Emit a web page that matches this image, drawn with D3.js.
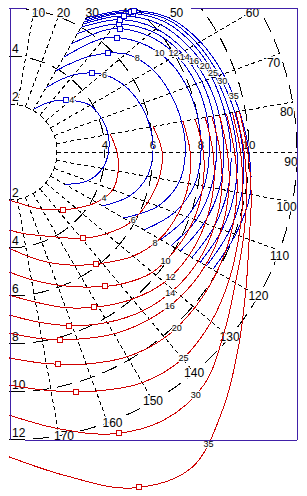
<!DOCTYPE html>
<html>
<head>
<meta charset="utf-8">
<script src="https://cdn.jsdelivr.net/npm/d3@7"></script>
<style>
  body { margin: 0; background: #fff; }
  text { font-family: "Liberation Sans", Arial, sans-serif; }
</style>
</head>
<body>
<svg id="chart" width="307" height="496"></svg>
<script>
// grid
const gridAngles = [10, 20, 30, 40, 50, 60, 70, 80, 90, 100, 110, 120, 130, 140, 150, 160, 170];
const ringRadii = [2, 4, 6, 8, 10, 12];
const leftTopLabels = [2, 4];
const leftBottomLabels = [2, 4, 6, 8, 10, 12];
const midLabels = [4, 6, 8, 10];
const topEdgeSegments = [[0, 0.75], [7.6, 12]];

// blue contours, range at each angle
const blueLevels = [4, 6, 8, 10, 12, 14, 16, 20, 25, 30, 35];
const blueAngles = [30, 40, 50, 60, 70, 80, 90, 100, 110, 120];
const blueRanges = [
  [2.05, 2.75, 3.35, 3.9, 4.1, 4.2, 4.15, 3.95, 3.5, 2.7],
  [3.1, 4.2, 5.05, 5.55, 5.82, 5.97, 6.0, 5.85, 5.35, 4.5],
  [3.9, 5.2, 6.35, 6.9, 7.15, 7.3, 7.35, 7.2, 6.6, 5.5],
  [4.55, 6.2, 7.1, 7.65, 7.9, 8.0, 8.0, 7.85, 7.35, 6.5],
  [5.2, 6.7, 7.55, 8.05, 8.3, 8.38, 8.35, 8.25, 7.9, 7.3],
  [5.7, 6.95, 7.8, 8.28, 8.55, 8.65, 8.65, 8.55, 8.3, 7.8],
  [6.0, 7.2, 8.0, 8.45, 8.75, 8.9, 8.95, 8.9, 8.65, 8.25],
  [6.15, 7.4, 8.25, 8.7, 9.0, 9.15, 9.25, 9.25, 9.1, 8.8],
  [6.25, 7.55, 8.45, 8.9, 9.15, 9.35, 9.5, 9.55, 9.45, 9.2],
  [6.35, 7.62, 8.6, 9.05, 9.32, 9.55, 9.75, 9.85, 9.75, 9.5],
  [6.45, 7.7, 8.7, 9.2, 9.5, 9.75, 10.0, 10.2, 10.05, 9.8]
];
const blueMarkAngles = [47.6, 46.4, 45, 43.4, 42, 40.7, 40, 40.3, 41.9, 41, 41.5];
const blueLabelAngles = [50.5, 51, 54, 56.6, 58.8, 61.5, 63.9, 66.3, 68.8, 71.6, 76];

// red contours
const redLevels = [4, 6, 8, 10, 12, 14, 16, 20, 25, 30, 35];
const redAngles = [80, 90, 100, 110, 120, 130, 140, 150, 160, 170, 180];
const redRanges = [
  [4.28, 4.5, 4.62, 4.6, 4.2, 3.65, 3.15, 2.75, 2.4, 2.15, 2.0],
  [6.1, 6.38, 6.35, 6.15, 5.85, 5.3, 4.7, 4.1, 3.7, 3.45, 3.25],
  [7.36, 7.55, 7.6, 7.5, 7.25, 6.75, 6.05, 5.45, 4.9, 4.4, 4.0],
  [7.88, 8.1, 8.2, 8.2, 8.05, 7.8, 7.2, 6.5, 5.9, 5.4, 5.0],
  [8.3, 8.5, 8.65, 8.7, 8.65, 8.45, 8.0, 7.45, 6.9, 6.35, 5.96],
  [8.58, 8.8, 9.0, 9.1, 9.1, 8.95, 8.65, 8.2, 7.7, 7.2, 6.79],
  [8.9, 9.1, 9.3, 9.42, 9.45, 9.35, 9.1, 8.75, 8.3, 7.9, 7.54],
  [9.2, 9.4, 9.65, 9.85, 10.0, 10.1, 10.1, 9.85, 9.4, 8.95, 8.58],
  [9.45, 9.65, 9.9, 10.2, 10.6, 11.0, 11.25, 11.1, 10.6, 10.1, 9.71],
  [9.6, 9.8, 10.05, 10.4, 10.9, 11.7, 12.65, 12.9, 12.5, 11.7, 10.96],
  [9.75, 9.95, 10.25, 10.65, 11.4, 12.5, 13.9, 15.2, 14.9, 13.7, 12.7]
];
const redMarkAngles = [137, 139.3, 142.1, 144.5, 151.4, 161, 164.8, 167.2, 164.3, 158.6, 158.9];
const redLabelAngles = [115.8, 118.7, 121.9, 125, 127.8, 131.2, 133.7, 136.3, 139.8, 142.5, 145.6];

const W = 307, H = 496;
const BOX = '#4020a8', BLUE = '#0000d0', RED = '#d00000';

const svg = d3.select('#chart');
const x = d3.scaleLinear().domain([0, 12]).range([9, 297]);
const y = d3.scaleLinear().domain([-6, 12]).range([8, 440]);
const r = d3.scaleLinear().domain([0, 12]).range([0, 288]);
const cx = x(0), cy = y(0);
const rad = d => d * Math.PI / 180;
const polar = (a, v) => [cx + r(v) * Math.sin(rad(a)), cy - r(v) * Math.cos(rad(a))];

svg.append('rect').attr('width', W).attr('height', H).attr('fill', '#fff');
svg.append('clipPath').attr('id', 'box').append('rect')
  .attr('x', x(0)).attr('y', y(-6))
  .attr('width', x(12) - x(0)).attr('height', y(12) - y(-6));

// grid: radial lines and range rings
const grid = svg.append('g').attr('clip-path', 'url(#box)')
  .attr('stroke', '#000').attr('fill', 'none').attr('shape-rendering', 'crispEdges');

grid.selectAll('line.spoke')
  .data(gridAngles)
  .join('line')
  .attr('class', 'spoke')
  .attr('x1', a => polar(a, 2)[0]).attr('y1', a => polar(a, 2)[1])
  .attr('x2', a => polar(a, 12)[0]).attr('y2', a => polar(a, 12)[1])
  .attr('stroke-dasharray', '4,3');

grid.selectAll('path.ring')
  .data(ringRadii)
  .join('path')
  .attr('class', 'ring')
  .attr('d', v => {
    const p = d3.path();
    p.arc(cx, cy, r(v), rad(90), rad(-90), true);
    return p.toString();
  })
  .attr('stroke-dasharray', v => v === 2 ? '5,3' : '16,8');

const halo = sel => sel.attr('stroke', '#fff').attr('stroke-width', 3)
  .attr('paint-order', 'stroke').attr('stroke-linejoin', 'round');

// grid labels
const gl = svg.append('g').attr('font-size', 12).attr('fill', '#000');
gl.selectAll('text.lt')
  .data(leftTopLabels)
  .join('text')
  .attr('x', x(0) + 3).attr('y', v => y(-v) - 3)
  .text(d => d).call(halo);
gl.selectAll('text.lb')
  .data(leftBottomLabels)
  .join('text')
  .attr('x', x(0) + 3).attr('y', v => y(v) - 3)
  .text(d => d).call(halo);
gl.selectAll('text.mid')
  .data(midLabels)
  .join('text')
  .attr('x', v => x(v)).attr('y', cy - 3)
  .attr('text-anchor', 'middle').attr('font-size', 11.5)
  .text(d => d).call(halo);

gl.selectAll('text.ang')
  .data(gridAngles)
  .join('text')
  .attr('text-anchor', 'middle')
  .attr('dominant-baseline', 'central')
  .each(function(a) {
    let px, py;
    const [ex, ey] = polar(a, 12);
    if (ey < y(-6)) {
      // spoke leaves through the top edge
      px = cx + (cy - y(-6)) * Math.tan(rad(a)) + 4 - (a / 10 - 1) * 2;
      py = y(-6) + 5;
    } else {
      px = ex + (a <= 100 ? -6 : (a >= 160 ? 5 : 0));
      py = ey + (a <= 90 ? 10 : (a <= 110 ? 5 : 0));
    }
    d3.select(this).attr('x', px).attr('y', py);
  })
  .text(d => d).call(halo);

// contours
const radial = d3.lineRadial()
  .angle(d => rad(d[0]))
  .radius(d => r(d[1]))
  .curve(d3.curveCatmullRom);

const plot = svg.append('g').attr('transform', `translate(${cx},${cy})`);

function drawSet(angles, ranges, color, cls) {
  const g = plot.append('g').attr('class', cls);
  const paths = g.selectAll('path')
    .data(ranges)
    .join('path')
    .attr('d', rs => radial(rs.map((v, i) => [angles[i], v])))
    .attr('fill', 'none')
    .attr('stroke', color)
    .attr('stroke-width', 1)
    .attr('shape-rendering', 'crispEdges');
  return paths.nodes();
}

function pointAt(node, angle) {
  const L = node.getTotalLength();
  let best = null, bd = 1e9;
  for (let i = 0; i <= 500; i++) {
    const p = node.getPointAtLength(L * i / 500);
    let a = Math.atan2(p.x, -p.y) * 180 / Math.PI;
    if (a < 0) a += 360;
    const d = Math.abs(a - angle);
    if (d < bd) { bd = d; best = p; }
  }
  return best;
}

const blueNodes = drawSet(blueAngles, blueRanges, BLUE, 'blue');
const redNodes = drawSet(redAngles, redRanges, RED, 'red');

function addMarks(nodes, markAngles, color) {
  const pts = nodes.map((n, i) => pointAt(n, markAngles[i]));
  plot.append('g').selectAll('rect')
    .data(pts)
    .join('rect')
    .attr('x', p => Math.round(p.x) - 2.5).attr('y', p => Math.round(p.y) - 2.5)
    .attr('width', 5).attr('height', 5)
    .attr('fill', '#fff').attr('stroke', color).attr('stroke-width', 1);
}
addMarks(blueNodes, blueMarkAngles, BLUE);
addMarks(redNodes, redMarkAngles, RED);

function addLabels(nodes, labelAngles, levels) {
  const pts = nodes.map((n, i) => pointAt(n, labelAngles[i]));
  plot.append('g').selectAll('text')
    .data(pts)
    .join('text')
    .attr('x', p => p.x).attr('y', p => p.y)
    .attr('text-anchor', 'middle').attr('dominant-baseline', 'central')
    .attr('font-size', 9).attr('fill', '#000')
    .text((p, i) => levels[i])
    .attr('stroke', '#fff').attr('stroke-width', 2).attr('paint-order', 'stroke');
}
addLabels(blueNodes, blueLabelAngles, blueLevels);
addLabels(redNodes, redLabelAngles, redLevels);

// frame
const frame = svg.append('g').attr('stroke', BOX).attr('stroke-width', 1)
  .attr('shape-rendering', 'crispEdges');
frame.append('line').attr('x1', x(0) + 1).attr('x2', x(0) + 1).attr('y1', y(-6)).attr('y2', y(12));
frame.append('line').attr('x1', x(12)).attr('x2', x(12)).attr('y1', y(-6)).attr('y2', y(12));
frame.append('line').attr('x1', x(0.65)).attr('x2', x(12)).attr('y1', y(12)).attr('y2', y(12));
frame.selectAll('line.top')
  .data(topEdgeSegments)
  .join('line')
  .attr('x1', d => x(d[0])).attr('x2', d => x(d[1]))
  .attr('y1', y(-6)).attr('y2', y(-6));
</script>
</body>
</html>
